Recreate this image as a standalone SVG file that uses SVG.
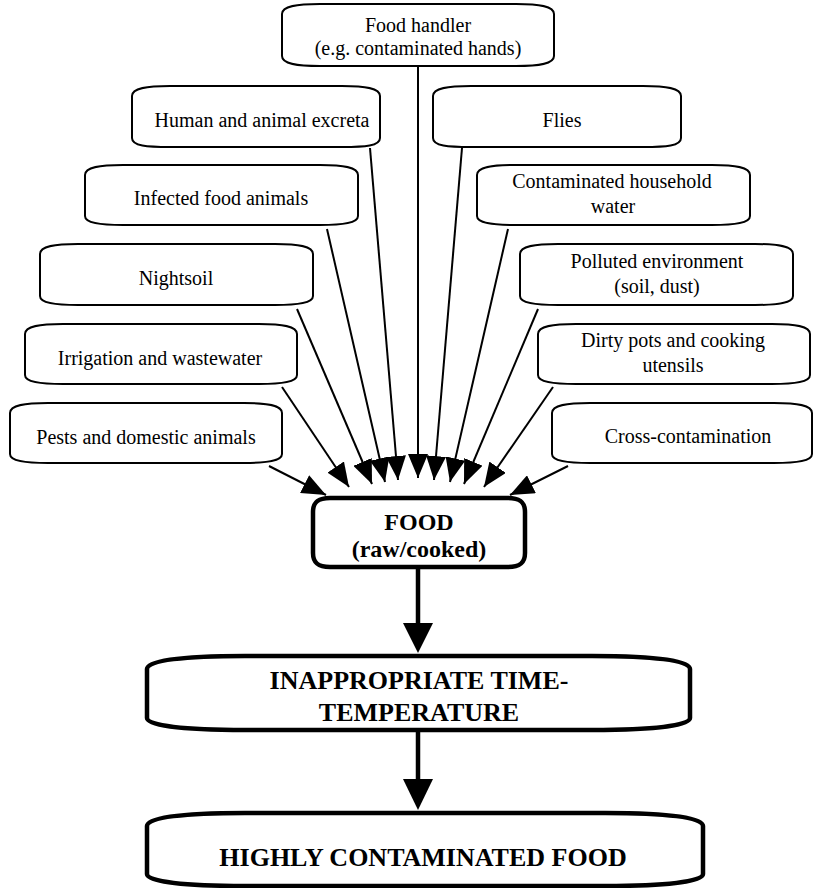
<svg xmlns="http://www.w3.org/2000/svg" width="816" height="888" viewBox="0 0 816 888">
<defs>
<marker id="ah" markerUnits="userSpaceOnUse" markerWidth="24" markerHeight="20" viewBox="0 0 24 20" refX="24" refY="10" orient="auto"><path d="M0,0 L24,10 L0,20 Z" fill="#000"/></marker>
</defs>
<style>
.sb{fill:#fff;stroke:#000;stroke-width:2}
.bb{fill:#fff;stroke:#000;stroke-width:4.5}
.t{font-family:"Liberation Serif","Times New Roman",serif;font-size:20px;fill:#000;text-anchor:middle}
.tb{font-family:"Liberation Serif","Times New Roman",serif;font-size:26px;font-weight:bold;fill:#000;text-anchor:middle}
.c{stroke:#000;stroke-width:2;fill:none;marker-end:url(#ah)}
.bc{stroke:#000;stroke-width:4.5;fill:none}
</style>
<rect width="816" height="888" fill="#fff"/>
<g id="connectors">
<line class="c" x1="269" y1="466" x2="326" y2="495"/>
<line class="c" x1="282" y1="387" x2="349" y2="487"/>
<line class="c" x1="297" y1="309" x2="372" y2="484"/>
<line class="c" x1="327" y1="229" x2="385" y2="482"/>
<line class="c" x1="370" y1="148" x2="398" y2="480"/>
<line class="c" x1="418" y1="67" x2="418" y2="478"/>
<line class="c" x1="462" y1="148" x2="434" y2="480"/>
<line class="c" x1="508" y1="229" x2="450" y2="482"/>
<line class="c" x1="538" y1="309" x2="464" y2="484"/>
<line class="c" x1="553" y1="387" x2="484" y2="487"/>
<line class="c" x1="568" y1="466" x2="510" y2="495"/>
<line class="bc" x1="418" y1="568" x2="418" y2="626"/>
<path d="M403,623 L433,623 L418,653 Z" fill="#000"/>
<line class="bc" x1="418" y1="732" x2="418" y2="782"/>
<path d="M403,779 L433,779 L418,810 Z" fill="#000"/>
</g>
<g id="food-handler">
<path class="sb" d="M282,14 C282,6 297,4 320,4 L516,4 C539,4 554,6 554,14 L554,56 C554,64 539,66 516,66 L320,66 C297,66 282,64 282,56 Z"/>
<text class="t" x="418" y="32">Food handler</text>
<text class="t" x="418" y="55">(e.g. contaminated hands)</text>
</g>
<g id="human-excreta">
<path class="sb" d="M132,96 C132,88 147,86 170,86 L342,86 C365,86 380,88 380,96 L380,138 C380,146 365,147 342,147 L170,147 C147,147 132,146 132,138 Z"/>
<text class="t" x="262" y="127">Human and animal excreta</text>
</g>
<g id="flies">
<path class="sb" d="M433,96 C433,88 448,86 471,86 L643,86 C666,86 681,88 681,96 L681,138 C681,146 666,147 643,147 L471,147 C448,147 433,146 433,138 Z"/>
<text class="t" x="562" y="127">Flies</text>
</g>
<g id="infected-food-animals">
<path class="sb" d="M85,175 C85,167 100,165 123,165 L320,165 C343,165 358,167 358,175 L358,216 C358,223 343,225 320,225 L123,225 C100,225 85,223 85,216 Z"/>
<text class="t" x="221" y="205">Infected food animals</text>
</g>
<g id="contaminated-water">
<path class="sb" d="M477,175 C477,167 492,165 515,165 L712,165 C735,165 750,167 750,175 L750,216 C750,223 735,225 712,225 L515,225 C492,225 477,223 477,216 Z"/>
<text class="t" x="612" y="188">Contaminated household</text>
<text class="t" x="613" y="213">water</text>
</g>
<g id="nightsoil">
<path class="sb" d="M40,254 C40,246 55,244 78,244 L275,244 C298,244 313,246 313,254 L313,296 C313,303 298,305 275,305 L78,305 C55,305 40,303 40,296 Z"/>
<text class="t" x="176" y="285">Nightsoil</text>
</g>
<g id="polluted-environment">
<path class="sb" d="M520,254 C520,246 535,244 558,244 L755,244 C778,244 793,246 793,254 L793,296 C793,303 778,305 755,305 L558,305 C535,305 520,303 520,296 Z"/>
<text class="t" x="657" y="268">Polluted environment</text>
<text class="t" x="657" y="293">(soil, dust)</text>
</g>
<g id="irrigation">
<path class="sb" d="M25,334 C25,326 40,324 63,324 L259,324 C282,324 297,326 297,334 L297,375 C297,382 282,384 259,384 L63,384 C40,384 25,382 25,375 Z"/>
<text class="t" x="160" y="365">Irrigation and wastewater</text>
</g>
<g id="dirty-pots">
<path class="sb" d="M538,334 C538,326 553,324 576,324 L772,324 C795,324 810,326 810,334 L810,375 C810,382 795,384 772,384 L576,384 C553,384 538,382 538,375 Z"/>
<text class="t" x="673" y="347">Dirty pots and cooking</text>
<text class="t" x="673" y="372">utensils</text>
</g>
<g id="pests">
<path class="sb" d="M10,413 C10,405 25,403 48,403 L244,403 C267,403 282,405 282,413 L282,454 C282,461 267,463 244,463 L48,463 C25,463 10,461 10,454 Z"/>
<text class="t" x="146" y="444">Pests and domestic animals</text>
</g>
<g id="cross-contamination">
<path class="sb" d="M552,413 C552,405 567,403 590,403 L774,403 C797,403 812,405 812,413 L812,454 C812,461 797,463 774,463 L590,463 C567,463 552,461 552,454 Z"/>
<text class="t" x="688" y="443">Cross-contamination</text>
</g>
<g id="food">
<path class="bb" d="M313,512 C313,502 318,498 330,498 L508,498 C520,498 525,502 525,512 L525,553 C525,563 520,567 508,567 L330,567 C318,567 313,563 313,553 Z"/>
<text class="tb" x="419" y="530" style="font-size:24px">FOOD</text>
<text class="tb" x="419" y="557" style="font-size:24px">(raw/cooked)</text>
</g>
<g id="inappropriate">
<path class="bb" d="M147,669 C147,660 185,656 245,656 L592,656 C652,656 690,660 690,669 L690,718 C690,726 652,730 592,730 L245,730 C185,730 147,726 147,718 Z"/>
<text class="tb" x="419" y="689">INAPPROPRIATE TIME-</text>
<text class="tb" x="419" y="721">TEMPERATURE</text>
</g>
<g id="highly-contaminated">
<path class="bb" d="M147,826 C147,817 185,813 245,813 L605,813 C665,813 703,817 703,826 L703,874 C703,882 665,886 605,886 L245,886 C185,886 147,882 147,874 Z"/>
<text class="tb" x="423" y="866">HIGHLY CONTAMINATED FOOD</text>
</g>
</svg>
